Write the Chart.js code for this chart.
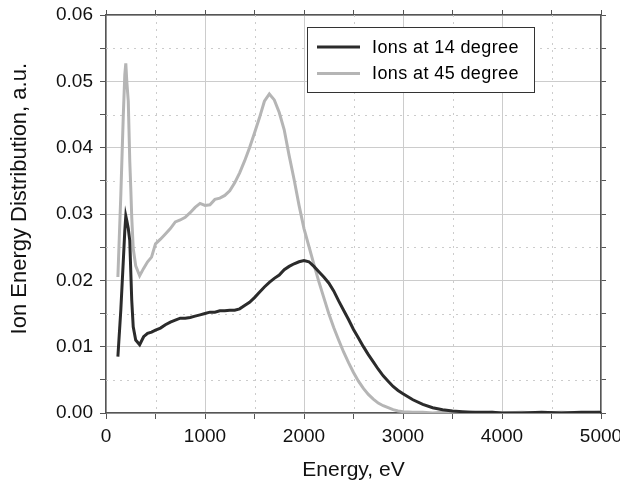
<!DOCTYPE html>
<html>
<head>
<meta charset="utf-8">
<script src="https://cdn.jsdelivr.net/npm/chart.js@4/dist/chart.umd.min.js"></script>
<style>
  html, body { margin: 0; padding: 0; background: #fff; }
  #wrap { width: 620px; height: 485px; }
</style>
</head>
<body>
<div id="wrap"><canvas id="iedChart"></canvas></div>
<script>
// Energy axis (eV), shared by both curves
const energy = [120, 150, 175, 190, 200, 210, 225, 240, 250, 260, 275, 300, 340, 380, 420, 460, 500,
  550, 600, 650, 700, 750, 800, 850, 900, 950, 1000, 1050, 1100, 1150, 1200, 1250, 1300, 1350,
  1400, 1450, 1500, 1550, 1600, 1650, 1700, 1750, 1800, 1850, 1900, 1950, 2000, 2050, 2100, 2150,
  2200, 2250, 2300, 2350, 2400, 2450, 2500, 2550, 2600, 2650, 2700, 2750, 2800, 2850, 2900, 2950,
  3000, 3100, 3200, 3300, 3400, 3500, 3600, 3700, 3800, 3900, 4000, 4200, 4400, 4600, 4800, 5000];

// Ions at 14 degree
const ions14 = [0.0085, 0.0156, 0.0230, 0.0275, 0.0297, 0.0290, 0.0278, 0.0260, 0.0215, 0.0170, 0.0130, 0.0110, 0.0103, 0.0115, 0.0120, 0.0122, 0.0125,
  0.0128, 0.0133, 0.0137, 0.0140, 0.0143, 0.0143, 0.0144, 0.0146, 0.0148, 0.0150, 0.0152, 0.0152, 0.0154, 0.0154, 0.0155, 0.0155, 0.0157,
  0.0162, 0.0167, 0.0174, 0.0182, 0.0190, 0.0197, 0.0203, 0.0208, 0.0216, 0.0221, 0.0225, 0.0228, 0.0230, 0.0228, 0.0221, 0.0213,
  0.0205, 0.0196, 0.0184, 0.0169, 0.0155, 0.0141, 0.0126, 0.0113, 0.0100, 0.0088, 0.0077, 0.0066, 0.0056, 0.0048, 0.0040, 0.0034,
  0.0029, 0.0020, 0.0013, 0.0008, 0.0005, 0.0003, 0.0002, 0.0001, 0.0001, 0.0001, 0.0000, 0.0000, 0.0001, 0.0000, 0.0001, 0.0001];

// Ions at 45 degree
const ions45 = [0.0205, 0.0330, 0.0450, 0.0510, 0.0527, 0.0500, 0.0470, 0.0380, 0.0340, 0.0295, 0.0248, 0.0222, 0.0207, 0.0218, 0.0228, 0.0235, 0.0255,
  0.0262, 0.0270, 0.0278, 0.0288, 0.0291, 0.0295, 0.0302, 0.0310, 0.0316, 0.0313, 0.0314, 0.0322, 0.0324, 0.0328, 0.0335, 0.0347, 0.0362,
  0.0380, 0.0400, 0.0422, 0.0445, 0.0470, 0.0481, 0.0472, 0.0453, 0.0427, 0.0388, 0.0352, 0.0313, 0.0278, 0.0251, 0.0224, 0.0198,
  0.0174, 0.0150, 0.0129, 0.0110, 0.0092, 0.0076, 0.0061, 0.0048, 0.0037, 0.0028, 0.0021, 0.0015, 0.0011, 0.0008, 0.0005, 0.0003,
  0.0002, 0.0001, 0.0001, 0.0000, 0.0001, 0.0000, 0.0000, 0.0001, 0.0000, 0.0001, 0.0000, 0.0001, 0.0000, 0.0001, 0.0000, 0.0001];

const seriesNames = ['Ions at 14 degree', 'Ions at 45 degree'];
const seriesColors = ['#2b2b2b', '#b5b5b5'];

const axisColor = '#555555';
const gridColor = '#cccccc';
const fontFamily = '"Liberation Sans", Arial, sans-serif';

function isMajor(v, step) {
  const r = v / step;
  return Math.abs(r - Math.round(r)) < 1e-6;
}

function toPoints(ys) {
  return energy.map((e, i) => ({ x: e, y: ys[i] }));
}

// no extra room for labels that hang past the plot edges
function noOverhang(s) {
  s.paddingLeft = 0; s.paddingRight = 0; s.paddingTop = 0; s.paddingBottom = 0;
}

// dotted minor grid lines (every 500 eV / 0.005)
const minorGrid = {
  id: 'minorGrid',
  beforeDatasetsDraw(chart) {
    const { ctx, chartArea: a, scales } = chart;
    ctx.save();
    ctx.strokeStyle = gridColor;
    ctx.lineWidth = 1;
    ctx.setLineDash([2, 5]);
    scales.x.ticks.forEach(t => {
      if (isMajor(t.value, 1000)) return;
      const px = Math.round(scales.x.getPixelForValue(t.value)) + 0.5;
      ctx.beginPath(); ctx.moveTo(px, a.top); ctx.lineTo(px, a.bottom); ctx.stroke();
    });
    scales.y.ticks.forEach(t => {
      if (isMajor(t.value, 0.01)) return;
      const py = Math.round(scales.y.getPixelForValue(t.value)) + 0.5;
      ctx.beginPath(); ctx.moveTo(a.left, py); ctx.lineTo(a.right, py); ctx.stroke();
    });
    ctx.restore();
  }
};

// framed legend in the upper right of the plot
const boxLegend = {
  id: 'boxLegend',
  afterDatasetsDraw(chart) {
    const { ctx, chartArea: a } = chart;
    const left = a.left + 201, top = a.top + 12, w = 227, h = 65;
    ctx.save();
    ctx.fillStyle = '#ffffff';
    ctx.fillRect(left, top, w, h);
    ctx.strokeStyle = '#333333';
    ctx.lineWidth = 1;
    ctx.strokeRect(left + 0.5, top + 0.5, w, h);
    ctx.font = '18px ' + fontFamily;
    ctx.textBaseline = 'middle';
    ctx.fillStyle = '#000000';
    if ('letterSpacing' in ctx) ctx.letterSpacing = '0.4px';
    seriesNames.forEach((name, i) => {
      const y = top + 20 + i * 26.5;
      ctx.strokeStyle = seriesColors[i];
      ctx.lineWidth = 3;
      ctx.beginPath(); ctx.moveTo(left + 10, y); ctx.lineTo(left + 53, y); ctx.stroke();
      ctx.fillText(name, left + 65, y + 1);
    });
    ctx.restore();
  }
};

const ctxEl = document.getElementById('iedChart');
new Chart(ctxEl, {
  type: 'line',
  data: {
    datasets: [
      { label: seriesNames[0], data: toPoints(ions14), borderColor: seriesColors[0], borderWidth: 3, pointRadius: 0, tension: 0 },
      { label: seriesNames[1], data: toPoints(ions45), borderColor: seriesColors[1], borderWidth: 3, pointRadius: 0, tension: 0 }
    ]
  },
  options: {
    responsive: true,
    maintainAspectRatio: false,
    animation: false,
    layout: { padding: 0 },
    plugins: { legend: { display: false }, tooltip: { enabled: false } },
    scales: {
      x: {
        type: 'linear', position: 'bottom', min: 0, max: 5000,
        afterFit: s => { s.height = 72; noOverhang(s); },
        ticks: {
          stepSize: 500, padding: 6, color: '#111', maxRotation: 0,
          font: { family: fontFamily, size: 19 },
          callback: v => isMajor(v, 1000) ? String(v) : ''
        },
        grid: {
          color: c => isMajor(c.tick.value, 1000) ? gridColor : 'rgba(0,0,0,0)',
          tickColor: axisColor, tickLength: 6, lineWidth: 1
        },
        border: { color: axisColor, width: 1.5 },
        title: { display: true, text: 'Energy, eV', color: '#111', font: { family: fontFamily, size: 21 }, padding: { top: 4, bottom: 2 } }
      },
      x2: {
        type: 'linear', position: 'top', min: 0, max: 5000,
        afterFit: s => { s.height = 15; noOverhang(s); },
        ticks: { stepSize: 500, display: false },
        grid: { drawOnChartArea: false, tickColor: axisColor, tickLength: 5 },
        border: { color: axisColor, width: 1.5 }
      },
      y: {
        type: 'linear', position: 'left', min: 0, max: 0.06,
        afterFit: s => { s.width = 106; noOverhang(s); },
        ticks: {
          stepSize: 0.005, padding: 7, color: '#111',
          font: { family: fontFamily, size: 19 },
          callback: v => isMajor(v, 0.01) ? v.toFixed(2) : ''
        },
        grid: {
          color: c => isMajor(c.tick.value, 0.01) ? gridColor : 'rgba(0,0,0,0)',
          tickColor: axisColor, tickLength: 6, lineWidth: 1
        },
        border: { color: axisColor, width: 1.5 },
        title: { display: true, text: '     Ion Energy Distribution, a.u.', color: '#111', font: { family: fontFamily, size: 22 }, padding: 7 }
      },
      y2: {
        type: 'linear', position: 'right', min: 0, max: 0.06,
        afterFit: s => { s.width = 19; noOverhang(s); },
        ticks: { stepSize: 0.005, display: false },
        grid: { drawOnChartArea: false, tickColor: axisColor, tickLength: 5 },
        border: { color: axisColor, width: 1.5 }
      }
    }
  },
  plugins: [minorGrid, boxLegend]
});
</script>
</body>
</html>
